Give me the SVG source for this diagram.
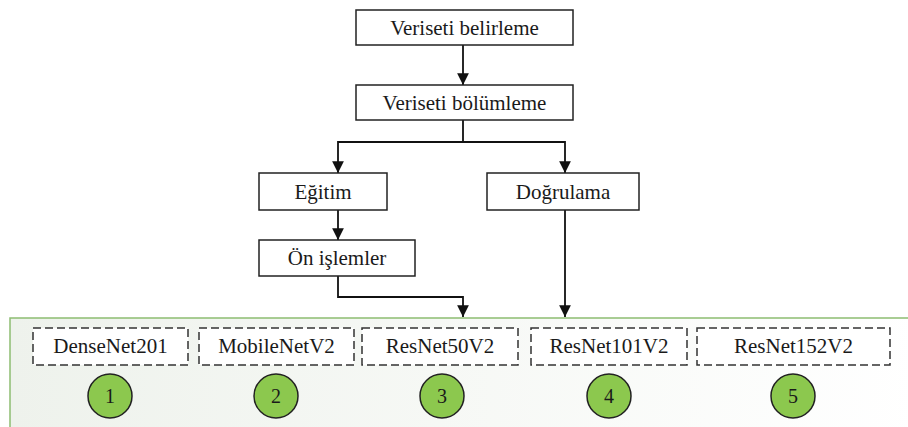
<svg xmlns="http://www.w3.org/2000/svg" width="908" height="427" viewBox="0 0 908 427">
<style>
.box{fill:#fff;stroke:#222;stroke-width:1.5}
.dbox{fill:#fff;stroke:#333;stroke-width:1.5;stroke-dasharray:8 4}
text{font-family:'Liberation Serif','Times New Roman','DejaVu Serif',serif;fill:#1a1a1a;text-anchor:middle}
.t{font-size:21px}
.n{font-size:20px}
.c{fill:#8cc84e;stroke:#222;stroke-width:1.5}
.e{fill:none;stroke:#111;stroke-width:1.8}
</style>
<defs>
<marker id="ah" viewBox="0 0 10 10" refX="10" refY="5" markerWidth="6.5" markerHeight="6.5" markerUnits="strokeWidth" orient="auto">
<path d="M0,0 L10,5 L0,10 Z" fill="#111"/>
</marker>
<linearGradient id="pg" x1="0" y1="0" x2="1" y2="0">
<stop offset="0" stop-color="#eef2ec"/>
<stop offset="1" stop-color="#ffffff"/>
</linearGradient>
</defs>
<rect width="908" height="427" fill="#fff"/>
<g id="panel">
<rect x="10" y="318" width="910" height="120" fill="url(#pg)" stroke="#8dbd72" stroke-width="1.5"/>
</g>
<g id="connectors">
<line class="e" x1="463" y1="45" x2="463" y2="85" marker-end="url(#ah)"/>
<path class="e" d="M463,120 V142 H338 V173" marker-end="url(#ah)"/>
<path class="e" d="M463,142 H565 V173" marker-end="url(#ah)"/>
<line class="e" x1="338" y1="210" x2="338" y2="240" marker-end="url(#ah)"/>
<path class="e" d="M338,276 V297 H463 V317" marker-end="url(#ah)"/>
<line class="e" x1="565" y1="210" x2="565" y2="317" marker-end="url(#ah)"/>
</g>
<g id="n-belirleme">
<rect class="box" x="356" y="10" width="217" height="35"/>
<text class="t" x="464.5" y="35">Veriseti belirleme</text>
</g>
<g id="n-bolumleme">
<rect class="box" x="356" y="85" width="217" height="35"/>
<text class="t" x="464.5" y="110">Veriseti bölümleme</text>
</g>
<g id="n-egitim">
<rect class="box" x="259" y="173" width="128" height="37"/>
<text class="t" x="323" y="199">Eğitim</text>
</g>
<g id="n-dogrulama">
<rect class="box" x="487" y="173" width="152" height="37"/>
<text class="t" x="563" y="199">Doğrulama</text>
</g>
<g id="n-onislemler">
<rect class="box" x="259" y="240" width="156" height="36"/>
<text class="t" x="337" y="265">Ön işlemler</text>
</g>
<g id="m1">
<rect class="dbox" x="33" y="328" width="155" height="37"/>
<text class="t" x="110.5" y="353">DenseNet201</text>
<circle class="c" cx="110" cy="396" r="22"/>
<text class="n" x="110" y="403">1</text>
</g>
<g id="m2">
<rect class="dbox" x="199" y="328" width="155" height="37"/>
<text class="t" x="276.5" y="353">MobileNetV2</text>
<circle class="c" cx="276" cy="396" r="22"/>
<text class="n" x="276" y="403">2</text>
</g>
<g id="m3">
<rect class="dbox" x="362" y="328" width="156" height="37"/>
<text class="t" x="440" y="353">ResNet50V2</text>
<circle class="c" cx="442" cy="396" r="22"/>
<text class="n" x="442" y="403">3</text>
</g>
<g id="m4">
<rect class="dbox" x="531" y="328" width="156" height="37"/>
<text class="t" x="609" y="353">ResNet101V2</text>
<circle class="c" cx="609" cy="396" r="22"/>
<text class="n" x="609" y="403">4</text>
</g>
<g id="m5">
<rect class="dbox" x="697" y="328" width="193" height="37"/>
<text class="t" x="793.5" y="353">ResNet152V2</text>
<circle class="c" cx="793" cy="396" r="22"/>
<text class="n" x="793" y="403">5</text>
</g>
</svg>
